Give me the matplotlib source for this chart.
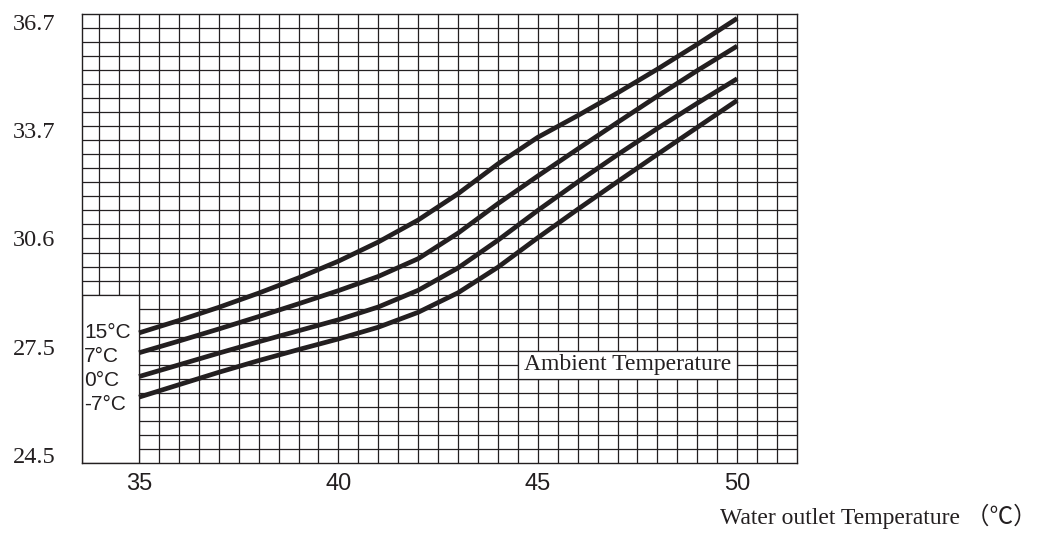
import numpy as np
import matplotlib.pyplot as plt
from matplotlib.patches import Rectangle

# water outlet temperature (x) and curve values per ambient temperature
water_out = [35, 36, 37, 38, 39, 40, 41, 42, 43, 44, 45, 46, 47, 48, 49, 50]
amb_15 = [27.94, 28.29, 28.66, 29.06, 29.49, 29.96, 30.50, 31.12, 31.86, 32.70,
          33.45, 34.06, 34.70, 35.37, 36.07, 36.80]
amb_7 = [27.38, 27.71, 28.05, 28.40, 28.76, 29.13, 29.53, 30.03, 30.75, 31.58,
         32.36, 33.12, 33.87, 34.61, 35.33, 36.02]
amb_0 = [26.71, 27.04, 27.37, 27.69, 28.00, 28.31, 28.67, 29.14, 29.77, 30.55,
         31.39, 32.19, 32.96, 33.70, 34.41, 35.10]
amb_m7 = [26.13, 26.48, 26.83, 27.16, 27.47, 27.77, 28.10, 28.52, 29.07, 29.79,
          30.62, 31.42, 32.20, 32.97, 33.73, 34.49]
series = [amb_15, amb_7, amb_0, amb_m7]
series_labels = ['15°C', '7°C', '0°C', '-7°C']

x_ticks = [35, 40, 45, 50]
y_tick_labels = ['24.5', '27.5', '30.6', '33.7', '36.7']

ink = '#231f20'
xlo, xhi = 33.57, 51.5
ylo, yhi = 24.275, 36.923

fig = plt.figure(figsize=(10.47, 5.35), dpi=100)
ax = fig.add_axes([82 / 1047, 1 - 463 / 535, 715 / 1047, 449 / 535])
ax.set_xlim(xlo, xhi)
ax.set_ylim(ylo, yhi)

# grid paper
for gx in np.arange(34, 51.01, 0.5):
    ax.axvline(gx, color=ink, lw=0.9, zorder=1)
row = (yhi - ylo) / 32
for k in range(1, 32):
    ax.axhline(ylo + k * row, color=ink, lw=0.9, zorder=1)

# label boxes
ax.add_patch(Rectangle((xlo, ylo), 35 - xlo, 29.007 - ylo, facecolor='white',
                       edgecolor=ink, lw=0.9, zorder=2))
ax.add_patch(Rectangle((44.5, ylo + 6 * row), 5.5, 2 * row, facecolor='white',
                       edgecolor=ink, lw=0.9, zorder=2))
ax.text(47.25, ylo + 7 * row, 'Ambient Temperature', ha='center', va='center',
        fontsize=17, family='Liberation Serif', color=ink, zorder=3)

for i, (ys, lab) in enumerate(zip(series, series_labels)):
    ax.plot(water_out, ys, color=ink, lw=3.4, solid_capstyle='butt',
            solid_joinstyle='round', zorder=4)
    ax.annotate(lab, (xlo, amb_15[0]), xytext=(1.5, -17.3 * i),
                textcoords='offset points', ha='left', va='center',
                fontsize=15, family='Liberation Sans', color=ink, zorder=3)

ax.set_xticks(x_ticks, [str(v) for v in x_ticks])
ax.set_yticks(np.linspace(24.5, 36.7, 5), y_tick_labels)
ax.tick_params(axis='x', length=0, pad=7, labelsize=17, labelcolor=ink)
ax.tick_params(axis='y', length=0, pad=19, labelsize=17.5, labelcolor=ink)
for t in ax.get_xticklabels():
    t.set_family('Liberation Sans')
for t in ax.get_yticklabels():
    t.set_family('Liberation Serif')
for s in ax.spines.values():
    s.set_color(ink)
    s.set_linewidth(1.0)

fig.text(1037 / 1047, 1 - 516 / 535, 'Water outlet Temperature （℃）', ha='right',
         va='center', fontsize=17, color=ink,
         family=['Liberation Serif', 'Noto Sans CJK SC'])

fig.savefig('out.png', dpi=100)
